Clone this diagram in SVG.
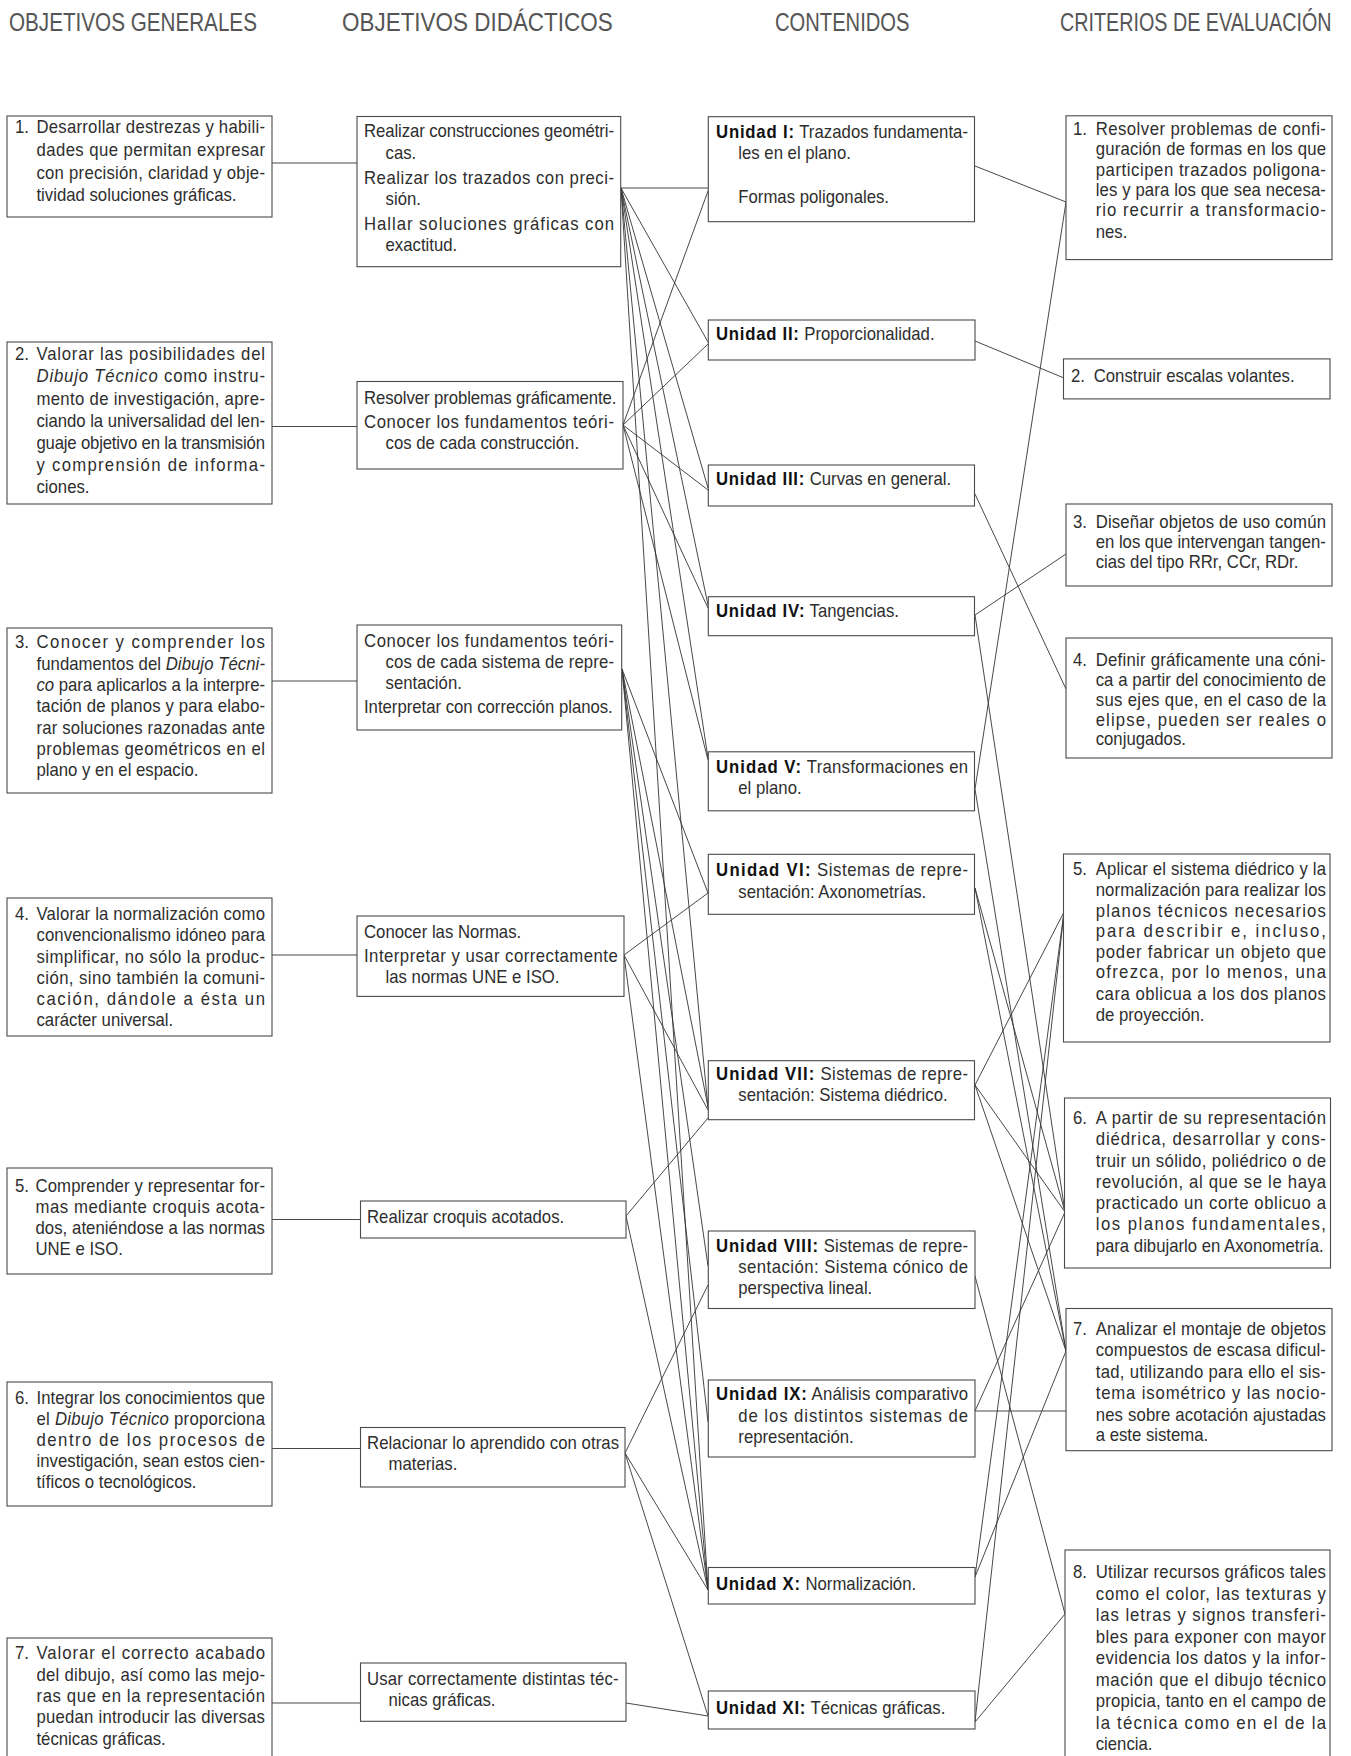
<svg xmlns="http://www.w3.org/2000/svg" width="1351" height="1756" viewBox="0 0 1351 1756">
<style>
.bx{fill:#fff;stroke:#4a4a4a;stroke-width:1.1}
.t text{font-family:"Liberation Sans",Arial,sans-serif;font-size:18px;fill:#2e2e2e}
.b{font-weight:bold;fill:#111;letter-spacing:0.8px}
.i{font-style:italic}
.h{font-family:"Liberation Sans",Arial,sans-serif;font-size:26px;fill:#555}
#connectors line{stroke:#333;stroke-width:0.9}
</style>
<rect x="0" y="0" width="1351" height="1756" fill="#fff"/>
<g id="headers">
<text class="h" transform="translate(9 31) scale(0.795 1)">OBJETIVOS GENERALES</text>
<text class="h" transform="translate(342 31) scale(0.864 1)">OBJETIVOS DIDÁCTICOS</text>
<text class="h" transform="translate(775 31) scale(0.776 1)">CONTENIDOS</text>
<text class="h" transform="translate(1060 31) scale(0.759 1)">CRITERIOS DE EVALUACIÓN</text>
</g>
<g id="connectors">
<line x1="272" y1="163" x2="357" y2="163"/>
<line x1="272" y1="426.5" x2="357" y2="426.5"/>
<line x1="272" y1="681" x2="357" y2="681"/>
<line x1="272" y1="955" x2="357" y2="955"/>
<line x1="272" y1="1219.5" x2="360.5" y2="1219.5"/>
<line x1="272" y1="1448.5" x2="360.5" y2="1448.5"/>
<line x1="272" y1="1703" x2="360.5" y2="1703"/>
<line x1="621" y1="188" x2="708" y2="188"/>
<line x1="621" y1="188" x2="708" y2="342"/>
<line x1="621" y1="188" x2="708" y2="488"/>
<line x1="621" y1="188" x2="708" y2="605"/>
<line x1="621" y1="188" x2="708" y2="758"/>
<line x1="621" y1="188" x2="708" y2="1108"/>
<line x1="621" y1="188" x2="708" y2="1590"/>
<line x1="623" y1="425" x2="708" y2="191"/>
<line x1="623" y1="425" x2="708" y2="344"/>
<line x1="623" y1="425" x2="708" y2="490"/>
<line x1="623" y1="425" x2="708" y2="608"/>
<line x1="623" y1="425" x2="708" y2="760"/>
<line x1="622" y1="669" x2="708" y2="893"/>
<line x1="622" y1="669" x2="708" y2="1107"/>
<line x1="622" y1="669" x2="708" y2="1266"/>
<line x1="622" y1="669" x2="708" y2="1422"/>
<line x1="622" y1="669" x2="708" y2="1590"/>
<line x1="624" y1="955" x2="708" y2="893"/>
<line x1="624" y1="955" x2="708" y2="1110"/>
<line x1="624" y1="955" x2="708" y2="1590"/>
<line x1="626" y1="1216" x2="708" y2="1118"/>
<line x1="626" y1="1216" x2="708" y2="1590"/>
<line x1="625" y1="1453" x2="708" y2="1285"/>
<line x1="625" y1="1453" x2="708" y2="1590"/>
<line x1="625" y1="1453" x2="708" y2="1716"/>
<line x1="626" y1="1703" x2="708" y2="1716"/>
<line x1="975" y1="166" x2="1066" y2="202"/>
<line x1="975" y1="789" x2="1066" y2="202"/>
<line x1="975" y1="341" x2="1064" y2="378"/>
<line x1="975" y1="615" x2="1066" y2="554"/>
<line x1="975" y1="494" x2="1066" y2="689"/>
<line x1="975" y1="1085" x2="1064" y2="912"/>
<line x1="975" y1="1577" x2="1064" y2="912"/>
<line x1="975" y1="1722" x2="1064" y2="912"/>
<line x1="975" y1="615" x2="1065" y2="1212"/>
<line x1="975" y1="888" x2="1065" y2="1212"/>
<line x1="975" y1="1085" x2="1065" y2="1212"/>
<line x1="975" y1="1411" x2="1065" y2="1212"/>
<line x1="975" y1="789" x2="1066" y2="1351"/>
<line x1="975" y1="888" x2="1066" y2="1351"/>
<line x1="975" y1="1085" x2="1066" y2="1351"/>
<line x1="975" y1="1577" x2="1066" y2="1351"/>
<line x1="975" y1="1411" x2="1066" y2="1411"/>
<line x1="975" y1="1276" x2="1065" y2="1614"/>
<line x1="975" y1="1722" x2="1065" y2="1614"/>
</g>

<!-- OBJETIVOS GENERALES -->
<g id="og1"><rect class="bx" x="7" y="116" width="265" height="101"/>
<g class="t" transform="translate(15 0) scale(0.93 1)">
<text x="0" y="133">1.</text>
<text x="23.1" y="133" textLength="245.7">Desarrollar destrezas y habili-</text>
<text x="23.1" y="155.8" textLength="245.7">dades que permitan expresar</text>
<text x="23.1" y="178.6" textLength="245.7">con precisión, claridad y obje-</text>
<text x="23.1" y="201.4">tividad soluciones gráficas.</text>
</g></g>
<g id="og2"><rect class="bx" x="7" y="342" width="265" height="162"/>
<g class="t" transform="translate(15 0) scale(0.93 1)">
<text x="0" y="360.3">2.</text>
<text x="23.1" y="360.3" textLength="245.7">Valorar las posibilidades del</text>
<text x="23.1" y="382.5" textLength="245.7"><tspan class="i">Dibujo Técnico</tspan> como instru-</text>
<text x="23.1" y="404.7" textLength="245.7">mento de investigación, apre-</text>
<text x="23.1" y="426.9" textLength="245.7">ciando la universalidad del len-</text>
<text x="23.1" y="449.1" textLength="245.7">guaje objetivo en la transmisión</text>
<text x="23.1" y="471.3" textLength="245.7">y comprensión de informa-</text>
<text x="23.1" y="493.5">ciones.</text>
</g></g>
<g id="og3"><rect class="bx" x="7" y="628" width="265" height="165"/>
<g class="t" transform="translate(15 0) scale(0.93 1)">
<text x="0" y="648.5">3.</text>
<text x="23.1" y="648.5" textLength="245.7">Conocer y comprender los</text>
<text x="23.1" y="669.8" textLength="245.7">fundamentos del <tspan class="i">Dibujo Técni-</tspan></text>
<text x="23.1" y="691.1" textLength="245.7"><tspan class="i">co</tspan> para aplicarlos a la interpre-</text>
<text x="23.1" y="712.4" textLength="245.7">tación de planos y para elabo-</text>
<text x="23.1" y="733.7" textLength="245.7">rar soluciones razonadas ante</text>
<text x="23.1" y="755" textLength="245.7">problemas geométricos en el</text>
<text x="23.1" y="776.3">plano y en el espacio.</text>
</g></g>
<g id="og4"><rect class="bx" x="7" y="898" width="265" height="138"/>
<g class="t" transform="translate(15 0) scale(0.93 1)">
<text x="0" y="920">4.</text>
<text x="23.1" y="920" textLength="245.7">Valorar la normalización como</text>
<text x="23.1" y="941.3" textLength="245.7">convencionalismo idóneo para</text>
<text x="23.1" y="962.6" textLength="245.7">simplificar, no sólo la produc-</text>
<text x="23.1" y="983.9" textLength="245.7">ción, sino también la comuni-</text>
<text x="23.1" y="1005.2" textLength="245.7">cación, dándole a ésta un</text>
<text x="23.1" y="1026.5">carácter universal.</text>
</g></g>
<g id="og5"><rect class="bx" x="7" y="1168" width="265" height="106"/>
<g class="t" transform="translate(15 0) scale(0.93 1)">
<text x="0" y="1191.7">5.</text>
<text x="22" y="1191.7" textLength="246.8">Comprender y representar for-</text>
<text x="22" y="1212.7" textLength="246.8">mas mediante croquis acota-</text>
<text x="22" y="1233.7" textLength="246.8">dos, ateniéndose a las normas</text>
<text x="22" y="1254.7">UNE e ISO.</text>
</g></g>
<g id="og6"><rect class="bx" x="7" y="1382" width="265" height="124"/>
<g class="t" transform="translate(15 0) scale(0.93 1)">
<text x="0" y="1404.3">6.</text>
<text x="23.1" y="1404.3" textLength="245.7">Integrar los conocimientos que</text>
<text x="23.1" y="1425.3" textLength="245.7">el <tspan class="i">Dibujo Técnico</tspan> proporciona</text>
<text x="23.1" y="1446.3" textLength="245.7">dentro de los procesos de</text>
<text x="23.1" y="1467.3" textLength="245.7">investigación, sean estos cien-</text>
<text x="23.1" y="1488.3">tíficos o tecnológicos.</text>
</g></g>
<g id="og7"><rect class="bx" x="7" y="1638" width="265" height="130"/>
<g class="t" transform="translate(15 0) scale(0.93 1)">
<text x="0" y="1659.4">7.</text>
<text x="23.1" y="1659.4" textLength="245.7">Valorar el correcto acabado</text>
<text x="23.1" y="1680.7" textLength="245.7">del dibujo, así como las mejo-</text>
<text x="23.1" y="1702" textLength="245.7">ras que en la representación</text>
<text x="23.1" y="1723.3" textLength="245.7">puedan introducir las diversas</text>
<text x="23.1" y="1744.6">técnicas gráficas.</text>
</g></g>

<!-- OBJETIVOS DIDÁCTICOS -->
<g id="od1"><rect class="bx" x="357" y="116.5" width="263.7" height="150.2"/>
<g class="t" transform="translate(364 0) scale(0.93 1)">
<text x="0" y="137" textLength="268.8">Realizar construcciones geométri-</text>
<text x="23.2" y="159">cas.</text>
<text x="0" y="184" textLength="268.8">Realizar los trazados con preci-</text>
<text x="23.2" y="205.5">sión.</text>
<text x="0" y="230" textLength="268.8">Hallar soluciones gráficas con</text>
<text x="23.2" y="251.5">exactitud.</text>
</g></g>
<g id="od2"><rect class="bx" x="357" y="381.5" width="266" height="87.5"/>
<g class="t" transform="translate(364 0) scale(0.93 1)">
<text x="0" y="404" textLength="271.5">Resolver problemas gráficamente.</text>
<text x="0" y="428" textLength="268.8">Conocer los fundamentos teóri-</text>
<text x="23.2" y="449.5">cos de cada construcción.</text>
</g></g>
<g id="od3"><rect class="bx" x="357" y="625" width="264.7" height="105"/>
<g class="t" transform="translate(364 0) scale(0.93 1)">
<text x="0" y="646.7" textLength="268.8">Conocer los fundamentos teóri-</text>
<text x="23.2" y="668.3" textLength="245.6">cos de cada sistema de repre-</text>
<text x="23.2" y="689">sentación.</text>
<text x="0" y="713.3" textLength="267.5">Interpretar con corrección planos.</text>
</g></g>
<g id="od4"><rect class="bx" x="357" y="916" width="267" height="80.4"/>
<g class="t" transform="translate(364 0) scale(0.93 1)">
<text x="0" y="938.3">Conocer las Normas.</text>
<text x="0" y="961.7" textLength="272.8">Interpretar y usar correctamente</text>
<text x="23.2" y="983.3">las normas UNE e ISO.</text>
</g></g>
<g id="od5"><rect class="bx" x="360.5" y="1201" width="265.5" height="37"/>
<g class="t" transform="translate(367 0) scale(0.93 1)">
<text x="0" y="1222.6">Realizar croquis acotados.</text>
</g></g>
<g id="od6"><rect class="bx" x="360.5" y="1427.5" width="264.5" height="59.5"/>
<g class="t" transform="translate(367 0) scale(0.93 1)">
<text x="0" y="1448.8" textLength="271">Relacionar lo aprendido con otras</text>
<text x="23.2" y="1470">materias.</text>
</g></g>
<g id="od7"><rect class="bx" x="360.5" y="1663" width="265.5" height="58.3"/>
<g class="t" transform="translate(367 0) scale(0.93 1)">
<text x="0" y="1684.6" textLength="270.5">Usar correctamente distintas téc-</text>
<text x="23.2" y="1705.8">nicas gráficas.</text>
</g></g>

<!-- CONTENIDOS -->
<g id="u1"><rect class="bx" x="708.3" y="116.7" width="266.2" height="105"/>
<g class="t" transform="translate(716 0) scale(0.93 1)">
<text x="0" y="138.3" textLength="271"><tspan class="b">Unidad I:</tspan> Trazados fundamenta-</text>
<text x="24" y="159">les en el plano.</text>
<text x="24" y="203.3">Formas poligonales.</text>
</g></g>
<g id="u2"><rect class="bx" x="708.3" y="320" width="266.7" height="40"/>
<g class="t" transform="translate(716 0) scale(0.93 1)">
<text x="0" y="340"><tspan class="b">Unidad II:</tspan> Proporcionalidad.</text>
</g></g>
<g id="u3"><rect class="bx" x="708.3" y="465" width="266.2" height="41"/>
<g class="t" transform="translate(716 0) scale(0.93 1)">
<text x="0" y="485"><tspan class="b">Unidad III:</tspan> Curvas en general.</text>
</g></g>
<g id="u4"><rect class="bx" x="708.3" y="596.7" width="266.2" height="39"/>
<g class="t" transform="translate(716 0) scale(0.93 1)">
<text x="0" y="617.5"><tspan class="b">Unidad IV:</tspan> Tangencias.</text>
</g></g>
<g id="u5"><rect class="bx" x="708.3" y="751.8" width="266.2" height="59"/>
<g class="t" transform="translate(716 0) scale(0.93 1)">
<text x="0" y="772.9" textLength="271"><tspan class="b">Unidad V:</tspan> Transformaciones en</text>
<text x="24" y="794.3">el plano.</text>
</g></g>
<g id="u6"><rect class="bx" x="708.3" y="854.3" width="266.2" height="60"/>
<g class="t" transform="translate(716 0) scale(0.93 1)">
<text x="0" y="876.4" textLength="271"><tspan class="b">Unidad VI:</tspan> Sistemas de repre-</text>
<text x="24" y="897.9">sentación: Axonometrías.</text>
</g></g>
<g id="u7"><rect class="bx" x="708.3" y="1060.7" width="266.2" height="59"/>
<g class="t" transform="translate(716 0) scale(0.93 1)">
<text x="0" y="1080" textLength="271"><tspan class="b">Unidad VII:</tspan> Sistemas de repre-</text>
<text x="24" y="1101.4">sentación: Sistema diédrico.</text>
</g></g>
<g id="u8"><rect class="bx" x="708.3" y="1231" width="266.7" height="77.5"/>
<g class="t" transform="translate(716 0) scale(0.93 1)">
<text x="0" y="1251.6" textLength="271"><tspan class="b">Unidad VIII:</tspan> Sistemas de repre-</text>
<text x="24" y="1272.9" textLength="247">sentación: Sistema cónico de</text>
<text x="24" y="1294.2">perspectiva lineal.</text>
</g></g>
<g id="u9"><rect class="bx" x="708.3" y="1380" width="266.7" height="77"/>
<g class="t" transform="translate(716 0) scale(0.93 1)">
<text x="0" y="1400.5" textLength="271"><tspan class="b">Unidad IX:</tspan> Análisis comparativo</text>
<text x="24" y="1421.7" textLength="247">de los distintos sistemas de</text>
<text x="24" y="1443">representación.</text>
</g></g>
<g id="u10"><rect class="bx" x="708.3" y="1567.5" width="266.7" height="36.5"/>
<g class="t" transform="translate(716 0) scale(0.93 1)">
<text x="0" y="1589.9"><tspan class="b">Unidad X:</tspan> Normalización.</text>
</g></g>
<g id="u11"><rect class="bx" x="708.3" y="1691" width="266.7" height="38"/>
<g class="t" transform="translate(716 0) scale(0.93 1)">
<text x="0" y="1713.6"><tspan class="b">Unidad XI:</tspan> Técnicas gráficas.</text>
</g></g>

<!-- CRITERIOS DE EVALUACIÓN -->
<g id="ce1"><rect class="bx" x="1066" y="115.8" width="266" height="143.8"/>
<g class="t" transform="translate(1073 0) scale(0.93 1)">
<text x="0" y="134.8">1.</text>
<text x="24.4" y="134.8" textLength="247.6">Resolver problemas de confi-</text>
<text x="24.4" y="155.2" textLength="247.6">guración de formas en los que</text>
<text x="24.4" y="175.6" textLength="247.6">participen trazados poligona-</text>
<text x="24.4" y="196" textLength="247.6">les y para los que sea necesa-</text>
<text x="24.4" y="216.5" textLength="247.6">rio recurrir a transformacio-</text>
<text x="24.4" y="237.6">nes.</text>
</g></g>
<g id="ce2"><rect class="bx" x="1063.5" y="358.9" width="266.5" height="40"/>
<g class="t" transform="translate(1071 0) scale(0.93 1)">
<text x="0" y="382.1">2.</text>
<text x="24.4" y="382.1">Construir escalas volantes.</text>
</g></g>
<g id="ce3"><rect class="bx" x="1066" y="504" width="266" height="82"/>
<g class="t" transform="translate(1073 0) scale(0.93 1)">
<text x="0" y="527.7">3.</text>
<text x="24.4" y="527.7" textLength="247.6">Diseñar objetos de uso común</text>
<text x="24.4" y="547.7" textLength="247.6">en los que intervengan tangen-</text>
<text x="24.4" y="568">cias del tipo RRr, CCr, RDr.</text>
</g></g>
<g id="ce4"><rect class="bx" x="1066" y="638" width="266" height="120"/>
<g class="t" transform="translate(1073 0) scale(0.93 1)">
<text x="0" y="666.4">4.</text>
<text x="24.4" y="666.4" textLength="247.6">Definir gráficamente una cóni-</text>
<text x="24.4" y="685.9" textLength="247.6">ca a partir del conocimiento de</text>
<text x="24.4" y="706.4" textLength="247.6">sus ejes que, en el caso de la</text>
<text x="24.4" y="726" textLength="247.6">elipse, pueden ser reales o</text>
<text x="24.4" y="745.5">conjugados.</text>
</g></g>
<g id="ce5"><rect class="bx" x="1063.5" y="854" width="266.5" height="188"/>
<g class="t" transform="translate(1073 0) scale(0.93 1)">
<text x="0" y="875">5.</text>
<text x="24.4" y="875" textLength="247.6">Aplicar el sistema diédrico y la</text>
<text x="24.4" y="896.1" textLength="247.6">normalización para realizar los</text>
<text x="24.4" y="917.2" textLength="247.6">planos técnicos necesarios</text>
<text x="24.4" y="937.5" textLength="247.6">para describir e, incluso,</text>
<text x="24.4" y="958" textLength="247.6">poder fabricar un objeto que</text>
<text x="24.4" y="978.5" textLength="247.6">ofrezca, por lo menos, una</text>
<text x="24.4" y="999.6" textLength="247.6">cara oblicua a los dos planos</text>
<text x="24.4" y="1020.6">de proyección.</text>
</g></g>
<g id="ce6"><rect class="bx" x="1064.5" y="1098" width="266" height="170"/>
<g class="t" transform="translate(1073 0) scale(0.93 1)">
<text x="0" y="1124">6.</text>
<text x="24.4" y="1124" textLength="247.6">A partir de su representación</text>
<text x="24.4" y="1145.3" textLength="247.6">diédrica, desarrollar y cons-</text>
<text x="24.4" y="1166.6" textLength="247.6">truir un sólido, poliédrico o de</text>
<text x="24.4" y="1188" textLength="247.6">revolución, al que se le haya</text>
<text x="24.4" y="1209.2" textLength="247.6">practicado un corte oblicuo a</text>
<text x="24.4" y="1230.5" textLength="247.6">los planos fundamentales,</text>
<text x="24.4" y="1251.8">para dibujarlo en Axonometría.</text>
</g></g>
<g id="ce7"><rect class="bx" x="1066" y="1308.5" width="266" height="142.2"/>
<g class="t" transform="translate(1073 0) scale(0.93 1)">
<text x="0" y="1334.7">7.</text>
<text x="24.4" y="1334.7" textLength="247.6">Analizar el montaje de objetos</text>
<text x="24.4" y="1356" textLength="247.6">compuestos de escasa dificul-</text>
<text x="24.4" y="1377.6" textLength="247.6">tad, utilizando para ello el sis-</text>
<text x="24.4" y="1399.1" textLength="247.6">tema isométrico y las nocio-</text>
<text x="24.4" y="1420.6" textLength="247.6">nes sobre acotación ajustadas</text>
<text x="24.4" y="1441.5">a este sistema.</text>
</g></g>
<g id="ce8"><rect class="bx" x="1065" y="1550" width="265" height="220"/>
<g class="t" transform="translate(1073 0) scale(0.93 1)">
<text x="0" y="1578.3">8.</text>
<text x="24.4" y="1578.3" textLength="247.6">Utilizar recursos gráficos tales</text>
<text x="24.4" y="1599.8" textLength="247.6">como el color, las texturas y</text>
<text x="24.4" y="1621.3" textLength="247.6">las letras y signos transferi-</text>
<text x="24.4" y="1642.8" textLength="247.6">bles para exponer con mayor</text>
<text x="24.4" y="1664.3" textLength="247.6">evidencia los datos y la infor-</text>
<text x="24.4" y="1685.8" textLength="247.6">mación que el dibujo técnico</text>
<text x="24.4" y="1707.3" textLength="247.6">propicia, tanto en el campo de</text>
<text x="24.4" y="1728.8" textLength="247.6">la técnica como en el de la</text>
<text x="24.4" y="1750.3">ciencia.</text>
</g></g>
</svg>
